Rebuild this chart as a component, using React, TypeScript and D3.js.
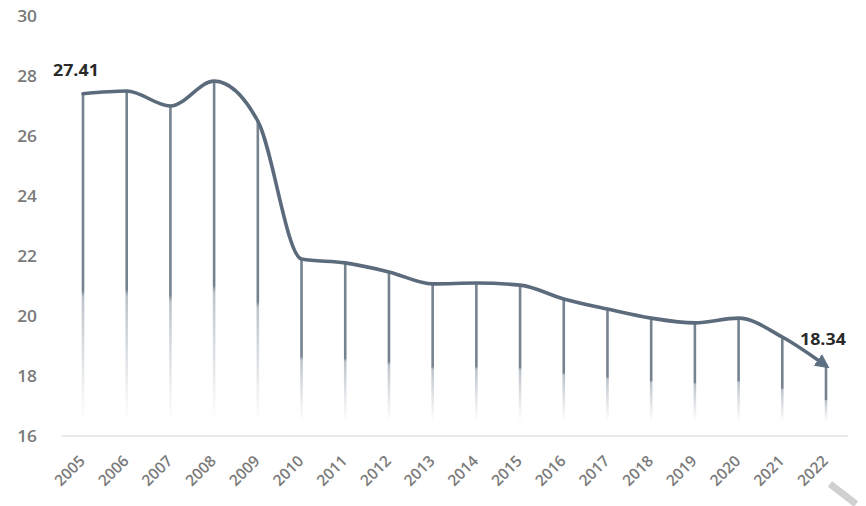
import React from "react";
import * as d3 from "d3";

const years = ["2005","2006","2007","2008","2009","2010","2011","2012","2013","2014","2015","2016","2017","2018","2019","2020","2021","2022"];
const values = [27.41, 27.5, 27.0, 27.83, 26.5, 21.9, 21.77, 21.47, 21.07, 21.1, 21.03, 20.57, 20.23, 19.93, 19.77, 19.93, 19.3, 18.34];
const yTicks = [16, 18, 20, 22, 24, 26, 28, 30];
const labeled = [0, 17];

export default function App() {
  const W = 866, H = 506;
  const x = d3.scalePoint<string>().domain(years).range([83, 826]);
  const y = d3.scaleLinear().domain([16, 30]).range([436, 16]);
  const stemBottom = 422;
  const line = d3.line<number>()
    .x((_, i) => x(years[i])!)
    .y((d) => y(d))
    .curve(d3.curveMonotoneX);
  return (
    <svg width={W} height={H} style={{ position: "absolute", left: 0, top: 0, background: "#fff" }}
      fontFamily="'Open Sans', 'DejaVu Sans', sans-serif">
      <defs>
        <linearGradient id="stem" x1="0" y1="0" x2="0" y2="1">
          <stop offset="0" stopColor="#76838f" stopOpacity="1" />
          <stop offset="0.6" stopColor="#76838f" stopOpacity="1" />
          <stop offset="0.62" stopColor="#8e9aa6" stopOpacity="0.6" />
          <stop offset="1" stopColor="#a0aab4" stopOpacity="0" />
        </linearGradient>
        <marker id="arrow" viewBox="0 0 10 10" refX="7" refY="5" markerWidth="4" markerHeight="4" orient="auto">
          <path d="M0,0 L10,5 L0,10 z" fill="#5d6f82" />
        </marker>
      </defs>
      <line x1={62} x2={848} y1={y(16)} y2={y(16)} stroke="#e3e3e3" strokeWidth={1.5} />
      {yTicks.map((t) => (
        <text key={t} transform={`translate(37,${y(t)}) scale(1.12,1)`} dy="0.36em" textAnchor="end"
          fontSize={15.5} fontWeight={600} fill="#7a7a7a">{t}</text>
      ))}
      {values.map((v, i) => (
        <rect key={i} x={x(years[i])! - 1.3} y={y(v)} width={2.6} height={stemBottom - y(v)} fill="url(#stem)" />
      ))}
      <path d={line(values)!} fill="none" stroke="#5b6b7c" strokeWidth={3.6} strokeLinecap="round" markerEnd="url(#arrow)" />
      {years.map((yr) => (
        <text key={yr} transform={`translate(${x(yr)! + 3},${462}) rotate(-45)`} textAnchor="end"
          fontSize={15.5} fontWeight={600} fill="#7a7a7a">{yr}</text>
      ))}
      {labeled.map((i) => (
        <text key={i} transform={`translate(${i === 0 ? x(years[i])! - 30 : x(years[i])! - 26},${i === 0 ? 76 : 345}) scale(1.15,1)`}
          fontSize={15.5} fontWeight="bold" fill="#2a2a2a">
          {values[i].toFixed(2)}
        </text>
      ))}
      <line x1={830} y1={484} x2={856} y2={504} stroke="#d0d0d0" strokeWidth={7} />
    </svg>
  );
}
